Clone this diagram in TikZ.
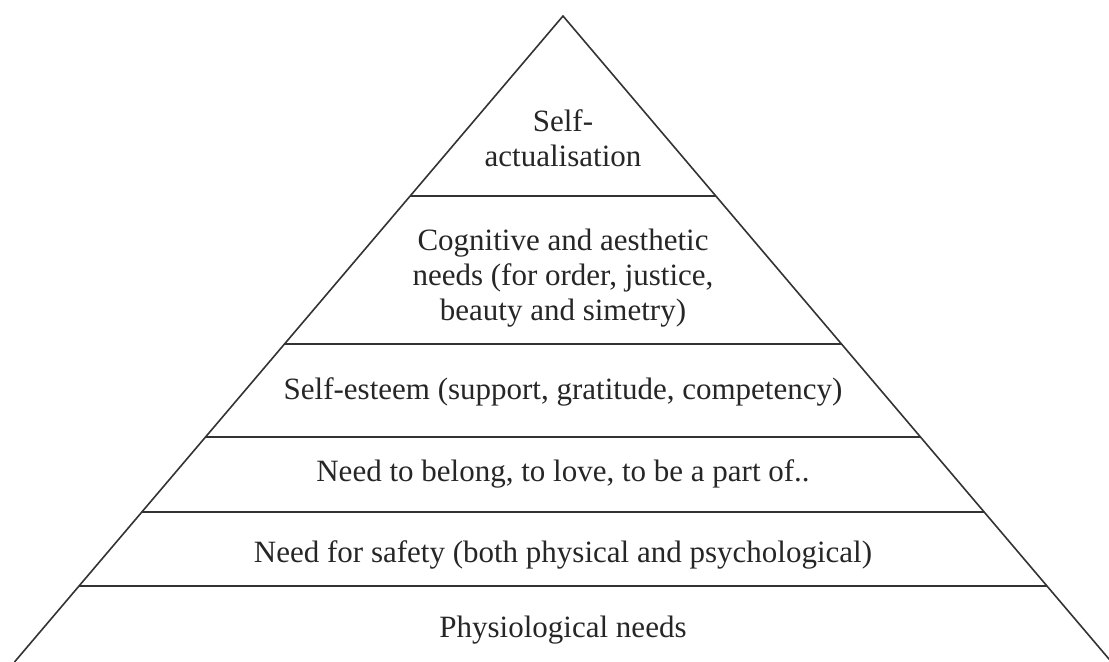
\documentclass[tikz,border=0pt]{standalone}
\usepackage{fontspec}
\setmainfont{Liberation Serif}
\usetikzlibrary{calc}

\tikzset{
  tier/.style={align=center, text=black!85, font=\fontsize{15.5}{17.5}\selectfont},
  edge/.style={draw=black!80, line width=0.8pt},
}

\begin{document}
\begin{tikzpicture}[x=0.5pt, y=-0.5pt]
    \useasboundingbox (0,0) rectangle (1109,662);
    % Draw pyramid outline
    \coordinate (apex) at (563,16);
    \coordinate (bl) at (14.5,662);
    \coordinate (br) at (1111.5,662);
    \begin{scope}
      \clip (0,0) rectangle (1109,662);
      \draw [edge] (bl) -- (apex) -- (br);
    \end{scope}
    % Draw tier borders
    \foreach \t in {0.2786, 0.5077, 0.6517, 0.7678, 0.8824}
      \draw [edge] ($(apex)!\t!(bl)$) -- ($(apex)!\t!(br)$);
    % Tier labels
    \node [tier] (selfact) at (563,138) {Self-\\actualisation};
    \node [tier] (cognitive) at (563,278) {Cognitive and aesthetic\\needs (for order, justice,\\beauty and simetry)};
    \node [tier, anchor=base] (esteem) at (563,400) {Self-esteem (support, gratitude, competency)};
    \node [tier, anchor=base] (belong) at (563,482) {Need to belong, to love, to be a part of..};
    \node [tier, anchor=base] (safety) at (563,563) {Need for safety (both physical and psychological)};
    \node [tier, anchor=base] (physio) at (563,638) {Physiological needs};
\end{tikzpicture}
\end{document}
